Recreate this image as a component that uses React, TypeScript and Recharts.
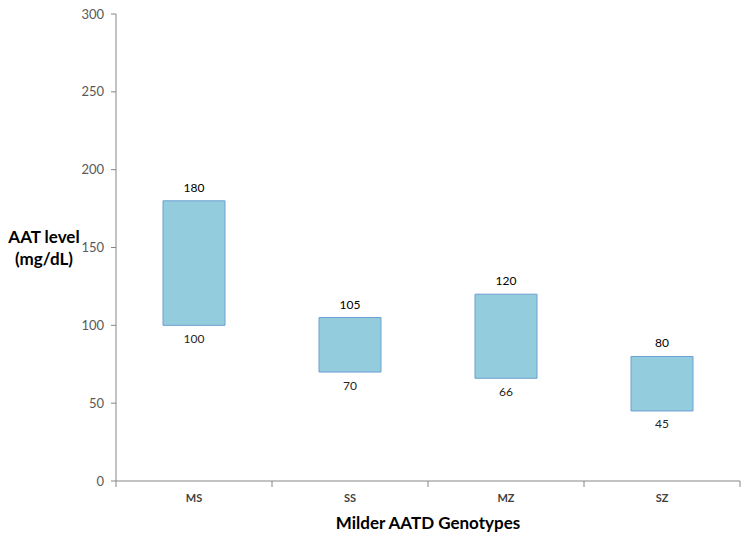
import { BarChart, Bar, XAxis, YAxis, LabelList, Label } from "recharts"

const genotypes = ["MS", "SS", "MZ", "SZ"]
const lowLevels = [100, 70, 66, 45]
const highLevels = [180, 105, 120, 80]
const yTicks = [0, 50, 100, 150, 200, 250, 300]

const chartData = genotypes.map((g, i) => ({
  name: g,
  range: [lowLevels[i], highLevels[i]],
  low: lowLevels[i],
  high: highLevels[i],
}))

const font = "Lato, 'Open Sans', sans-serif"
const axisGray = "#868686"

function GenotypeTick(props: any) {
  const { x, y, payload, index } = props
  const half = payload?.offset ?? 78
  const top = y - 8
  return (
    <g>
      <line x1={x - half} x2={x - half} y1={top} y2={top + 6} stroke={axisGray} />
      {index === genotypes.length - 1 && (
        <line x1={x + half} x2={x + half} y1={top} y2={top + 6} stroke={axisGray} />
      )}
      <text x={x} y={top + 21} textAnchor="middle" fontSize={11} fontWeight="bold" fill="#404040" fontFamily={font}>
        {payload.value}
      </text>
    </g>
  )
}

function LevelLabel(props: any) {
  const { viewBox } = props
  const cx = 44
  const cy = viewBox ? viewBox.y + viewBox.height / 2 : 247
  return (
    <text textAnchor="middle" fontSize={17} fontWeight="bold" fill="#000" fontFamily={font}>
      <tspan x={cx} y={cy - 5}>AAT level</tspan>
      <tspan x={cx} y={cy + 17}>(mg/dL)</tspan>
    </text>
  )
}

export default function App() {
  return (
    <div style={{ position: "absolute", left: 0, top: 0, background: "#fff" }}>
      <BarChart width={749} height={540} data={chartData} margin={{ top: 14, right: 9, bottom: 0, left: 0 }}>
        <XAxis
          dataKey="name"
          height={59}
          stroke={axisGray}
          tickLine={false}
          tick={<GenotypeTick />}
        >
          <Label value="Milder AATD Genotypes" position="insideBottom" offset={11} fontSize={17} fontWeight="bold" fill="#000" fontFamily={font} />
        </XAxis>
        <YAxis
          width={116}
          domain={[0, 300]}
          ticks={yTicks}
          stroke={axisGray}
          tickSize={5}
          tickMargin={7}
          tick={{ fontSize: 13, fill: "#595959", fontFamily: font }}
          interval={0}
        >
          <Label content={<LevelLabel />} />
        </YAxis>
        <Bar dataKey="range" barSize={62} fill="#93CDDD" stroke="#6C9ED2" strokeWidth={1} isAnimationActive={false}>
          <LabelList dataKey="high" position="top" offset={9} fontSize={12} fill="#000" fontFamily={font} />
          <LabelList dataKey="low" position="bottom" offset={9} fontSize={12} fill="#262626" fontFamily={font} />
        </Bar>
      </BarChart>
    </div>
  )
}
